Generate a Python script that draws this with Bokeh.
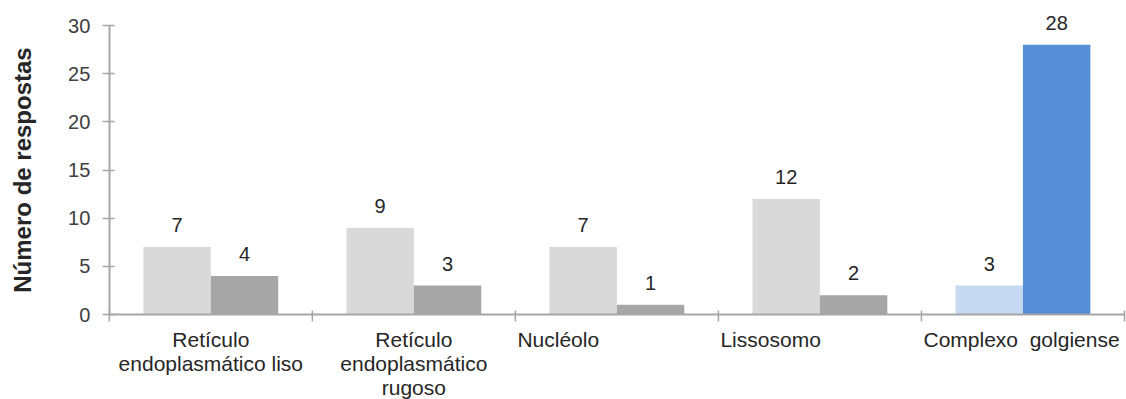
import numpy as np
from bokeh.plotting import figure
from bokeh.models import Range1d, ColumnDataSource, SingleIntervalTicker
from bokeh.core.properties import value
from bokeh.embed import file_html
from bokeh.resources import INLINE

# ---- data ----
categories = ["Retículo endoplasmático liso", "Retículo endoplasmático rugoso",
              "Nucléolo", "Lissosomo", "Complexo golgiense"]
label_lines = [["Retículo", "endoplasmático liso"],
               ["Retículo", "endoplasmático", "rugoso"],
               ["Nucléolo"], ["Lissosomo"], ["Complexo\u00a0 golgiense"]]
series_a = [7, 9, 7, 12, 3]
series_b = [4, 3, 1, 2, 28]
y_ticks_max = 30
y_title = "Número de respostas"

# ---- styles ----
colors_a = ["#d9d9d9", "#d9d9d9", "#d9d9d9", "#d9d9d9", "#c6d9f1"]
colors_b = ["#a6a6a6", "#a6a6a6", "#a6a6a6", "#a6a6a6", "#558ed5"]
label_align = ["center", "center", "left", "left", "left"]
FONT = "Liberation Sans"
AXIS_COLOR = "#a6a6a6"

W, H = 1126, 399
LEFT = 109
Y0_PX, Y30_PX = 314, 25
ppu = (Y0_PX - Y30_PX) / y_ticks_max
y_start = -(H - Y0_PX) / ppu
y_end = y_ticks_max + Y30_PX / ppu
n = len(categories)
xpu = (W - LEFT) / n

p = figure(width=W, height=H, output_backend="svg", toolbar_location=None,
           x_range=Range1d(-LEFT / xpu, n + 0.01), y_range=Range1d(y_start, y_end),
           min_border_left=0, min_border_right=0, min_border_top=0,
           min_border_bottom=0)
p.outline_line_color = None
p.xgrid.visible = False
p.ygrid.visible = False
p.xaxis.visible = False

idx = np.arange(n)
bw = 0.332
src = ColumnDataSource(dict(
    xa=idx + 0.5 - bw / 2, xb=idx + 0.5 + bw / 2,
    a=series_a, b=series_b, ca=colors_a, cb=colors_b,
    ta=[str(v) for v in series_a], tb=[str(v) for v in series_b]))
p.vbar(x="xa", top="a", bottom=0, width=bw, fill_color="ca", line_color=None, source=src)
p.vbar(x="xb", top="b", bottom=0, width=bw, fill_color="cb", line_color=None, source=src)

for xc, yc, tc in (("xa", "a", "ta"), ("xb", "b", "tb")):
    p.text(x=xc, y=yc, text=tc, source=src,
           text_align="center", text_baseline="alphabetic", y_offset=-22,
           text_font=value(FONT), text_font_size="20px", text_color="#262626")

# baseline & category boundary ticks
p.segment(x0=[0], y0=[0], x1=[n], y1=[0], line_color=AXIS_COLOR, line_width=2)
bounds = np.arange(n + 1)
p.segment(x0=bounds, y0=np.full(n + 1, 4 / ppu), x1=bounds, y1=np.full(n + 1, -7 / ppu),
          line_color=AXIS_COLOR, line_width=1.5)

# category labels
lx, ly, lt, la, lo = [], [], [], [], []
for i, lines in enumerate(label_lines):
    for j, t in enumerate(lines):
        lx.append(i + 0.5 if label_align[i] == "center" else i + 0.01)
        ly.append(0)
        lt.append(t)
        la.append(label_align[i])
        lo.append(25 + 24 * j)
p.text(x=lx, y=ly, text=lt, text_align=la, y_offset=lo, text_baseline="alphabetic",
       text_font=value(FONT), text_font_size="21px", text_color="#262626")

# y axis, pinned at x = 0 (the first category boundary)
ya = p.yaxis[0]
ya.fixed_location = 0
ya.bounds = (0, y_ticks_max)
ya.ticker = SingleIntervalTicker(interval=5)
ya.minor_tick_line_color = None
ya.major_tick_in = 5
ya.major_tick_out = 7
ya.axis_line_color = AXIS_COLOR
ya.axis_line_width = 2
ya.major_tick_line_color = AXIS_COLOR
ya.major_tick_line_width = 1.5
ya.major_label_text_font = FONT
ya.major_label_text_font_size = "20px"
ya.major_label_text_color = "#404040"
ya.major_label_standoff = 12

# y-axis title, centred on the 0..30 rule
p.text(x=[-87 / xpu], y=[y_ticks_max / 2], text=[y_title], angle=np.pi / 2,
       text_align="center", text_baseline="middle",
       text_font=value(FONT), text_font_style="bold", text_font_size="24px",
       text_color="#262626")

open("out.html", "w").write(file_html(p, INLINE))
